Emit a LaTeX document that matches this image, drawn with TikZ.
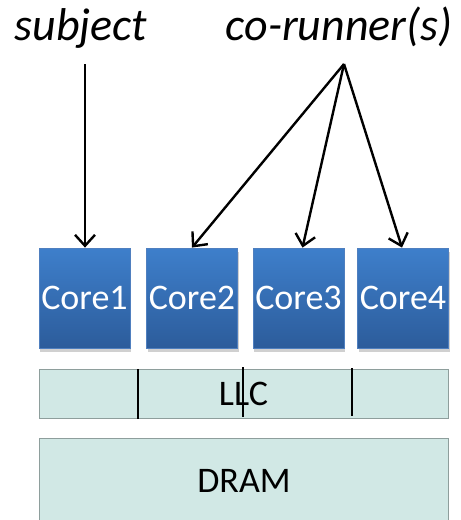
\documentclass[tikz,border=0pt]{standalone}
\usepackage{fontspec}
\setmainfont{Carlito}
\usetikzlibrary{arrows.meta,shadows}

\definecolor{coretop}{HTML}{3E7FCB}
\definecolor{corebot}{HTML}{2C5C9B}
\definecolor{coreedge}{HTML}{4F7FBF}
\definecolor{memfill}{HTML}{D1E8E5}
\definecolor{memedge}{HTML}{8E9E9C}

\tikzset{
  core/.style={rectangle, minimum width=91pt, minimum height=100pt,
    top color=coretop, bottom color=corebot, draw=coreedge, line width=0.8pt,
    text=white, font=\fontsize{36}{40}\selectfont, inner sep=0pt,
    drop shadow={shadow xshift=1pt, shadow yshift=-4pt, opacity=0.3, fill=black!60}},
  mem/.style={rectangle, fill=memfill, draw=memedge, line width=1pt,
    minimum width=409pt, inner sep=0pt, font=\fontsize{36}{40}\selectfont},
  label/.style={font=\itshape\fontsize{46}{50}\selectfont, anchor=base, inner sep=0pt},
  pointer/.style={-{Straight Barb[length=11pt, width=20pt, line width=2.4pt]}, line width=2.4pt},
  divider/.style={line width=1.8pt}
}

\begin{document}
\begin{tikzpicture}[x=1pt, y=-1pt]
  \clip (0,0) rectangle (461,520);
  \fill[white] (0,0) rectangle (461,520);

  % task labels
  \node[label] (subj) at (81,40) {subject};
  \node[label] (corun) at (339,40) {co-runner(s)};
  \coordinate (subjfoot) at (85,64);
  \coordinate (corunfoot) at (344,64);

  % cores
  \node[core] (c1) at (84.5,298) {Core1};
  \node[core] (c2) at (192,298) {Core2};
  \node[core] (c3) at (298.5,298) {Core3};
  \node[core] (c4) at (403,298) {Core4};

  % shared last-level cache and memory
  \node[mem, minimum height=49pt] (llc) at (243.5,393.5) {LLC};
  \node[mem, minimum height=100pt] (dram) at (243.5,488) {};
  \node at (244,481) {\fontsize{36}{40}\selectfont DRAM};

  % cache partition marks
  \draw[divider] (138,369) -- (138,419);
  \draw[divider] (243,367) -- (243,417);
  \draw[divider] (352,368) -- (352,416);

  % task-to-core arrows
  \draw[pointer] (subjfoot) -- (c1.north -| subjfoot);
  \draw[pointer] (corunfoot) -- (c2.north);
  \draw[pointer] (corunfoot) -- ([xshift=4pt]c3.north);
  \draw[pointer] (corunfoot) -- ([xshift=-1pt]c4.north);
\end{tikzpicture}
\end{document}
